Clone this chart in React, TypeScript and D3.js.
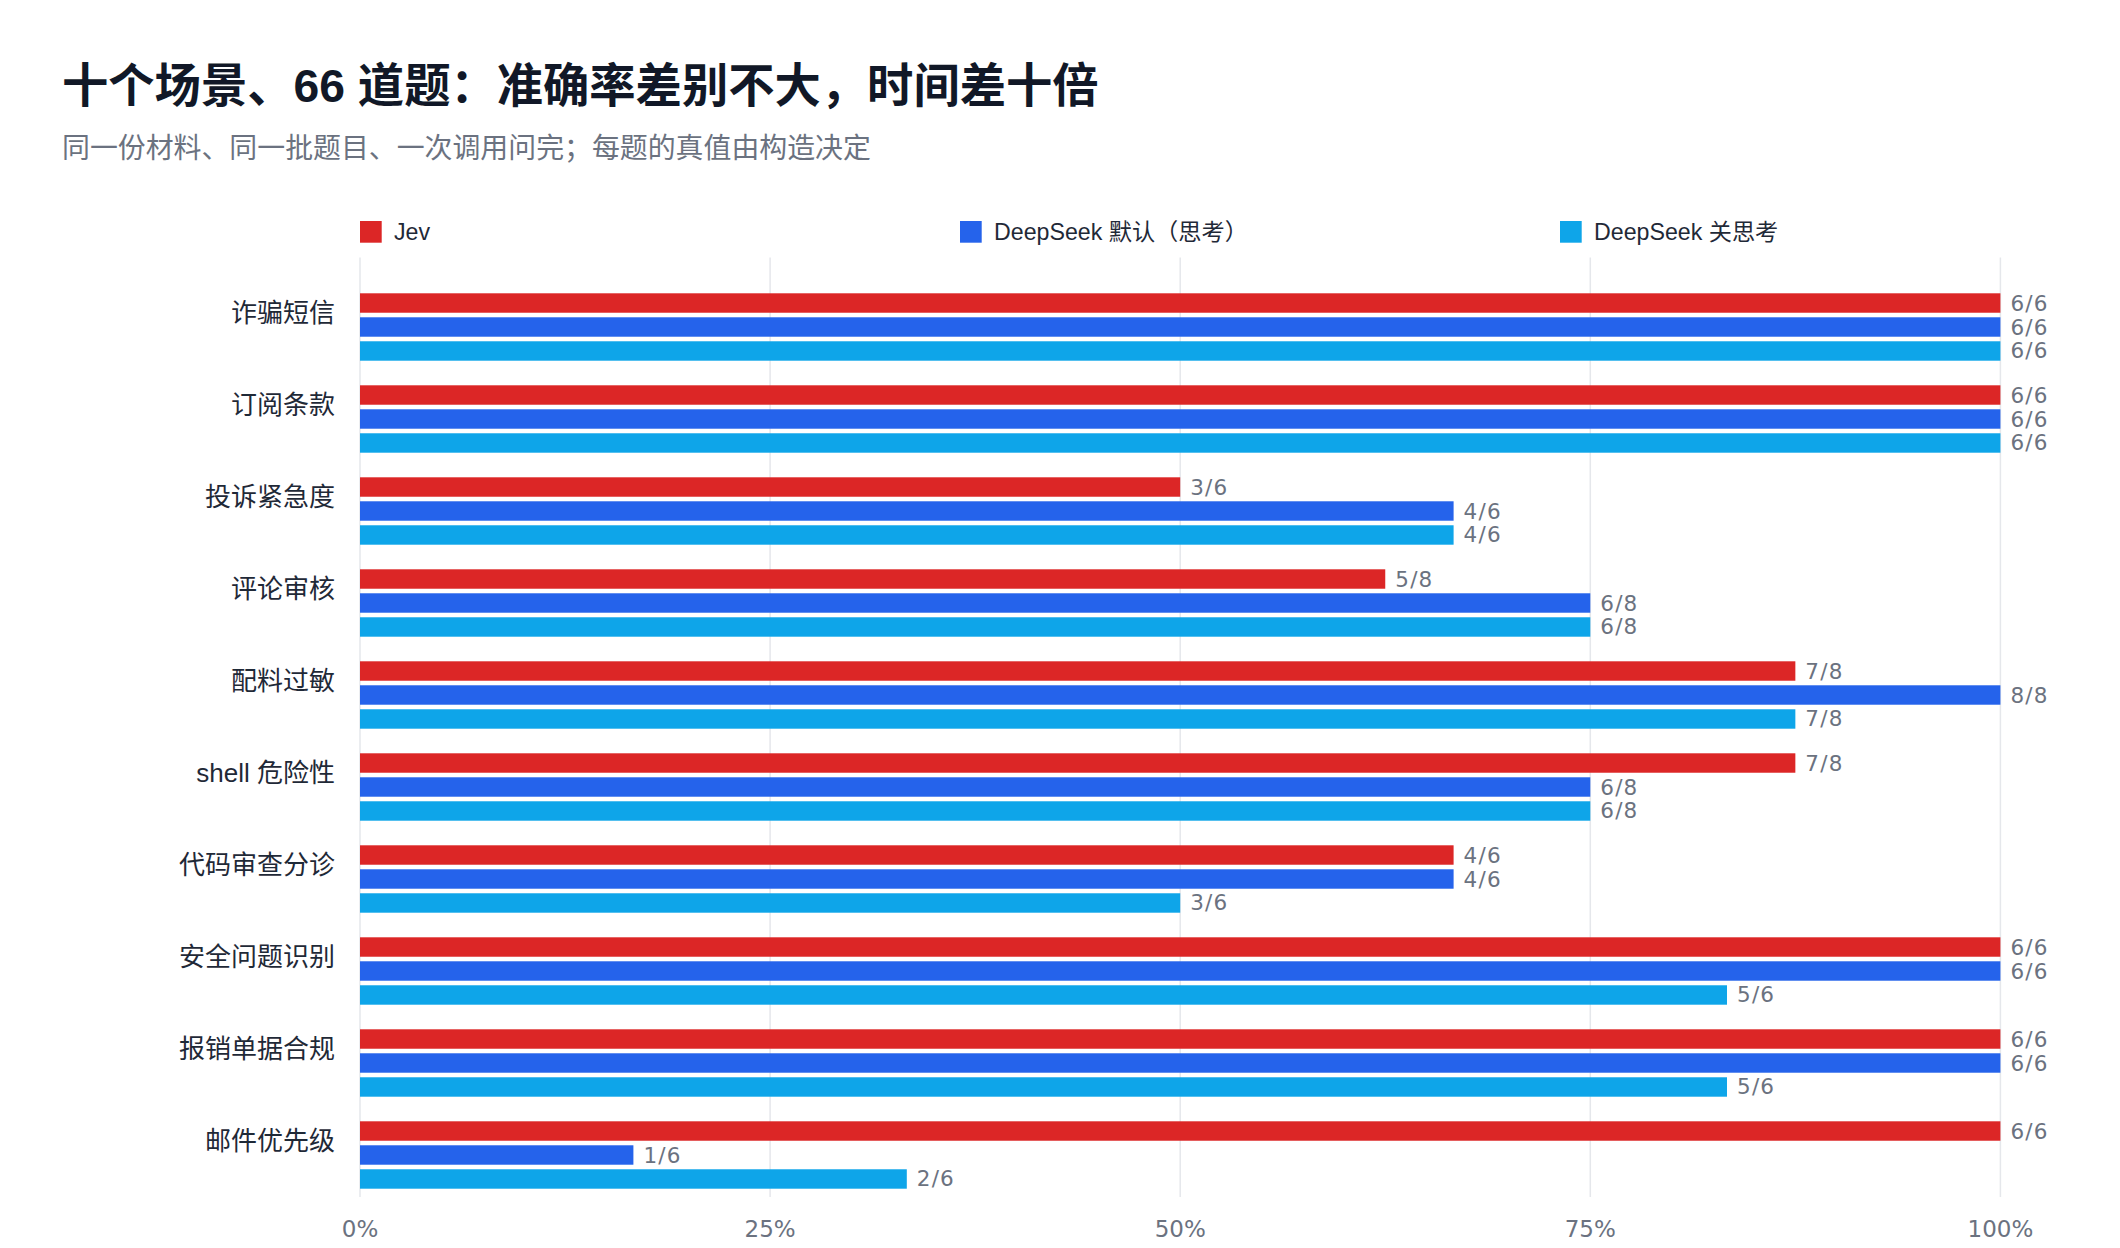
import React from "react";
import * as d3 from "d3";

const titleText = "十个场景、66 道题：准确率差别不大，时间差十倍";
const subtitleText = "同一份材料、同一批题目、一次调用问完；每题的真值由构造决定";

const categories = [
  "诈骗短信",
  "订阅条款",
  "投诉紧急度",
  "评论审核",
  "配料过敏",
  "shell 危险性",
  "代码审查分诊",
  "安全问题识别",
  "报销单据合规",
  "邮件优先级",
];

const seriesNames = ["Jev", "DeepSeek 默认（思考）", "DeepSeek 关思考"];
const seriesColors = ["#dc2626", "#2563eb", "#0ea5e9"];

const totals = [6, 6, 6, 8, 8, 8, 6, 6, 6, 6];
const jevCorrect = [6, 6, 3, 5, 7, 7, 4, 6, 6, 6];
const dsDefaultCorrect = [6, 6, 4, 6, 8, 6, 4, 6, 6, 1];
const dsNoThinkCorrect = [6, 6, 4, 6, 7, 6, 3, 5, 5, 2];

const xTicks = [0, 0.25, 0.5, 0.75, 1];

const W = 2120;
const H = 1248;

const LATIN = "'Liberation Sans', 'Noto Sans CJK SC', sans-serif";
const NUM = "'DejaVu Sans', 'Noto Sans', sans-serif";

export default function App() {
  const seriesData = [jevCorrect, dsDefaultCorrect, dsNoThinkCorrect];

  const x = d3.scaleLinear().domain([0, 1]).range([360, 2000.4]);
  const y = d3.scaleBand<string>().domain(categories).range([281, 1201]).padding(0);
  const ySub = d3
    .scaleBand<string>()
    .domain(seriesNames)
    .range([12.3, 79.7])
    .paddingInner(0.19)
    .paddingOuter(0);

  const gridTop = 257.5;
  const gridBottom = 1197;

  return (
    <svg
      width={W}
      height={H}
      viewBox={`0 0 ${W} ${H}`}
      style={{ position: "absolute", left: 0, top: 0, background: "#ffffff" }}
    >
      <rect x={0} y={0} width={W} height={H} fill="#ffffff" />
      {/* Title */}
      <text
        x={62}
        y={102}
        fontFamily={LATIN}
        fontWeight={700}
        fontSize={46.3}
        fill="#111827"
      >
        {titleText}
      </text>
      <text x={62} y={158} fontFamily={LATIN} fontSize={27.9} fill="#6b7280">
        {subtitleText}
      </text>

      {/* Legend */}
      {seriesNames.map((s, i) => (
        <g key={s} transform={`translate(${360 + i * 600},221)`}>
          <rect x={0} y={0} width={21.7} height={21.7} fill={seriesColors[i]} />
          <text
            x={34}
            y={11}
            dominantBaseline="central"
            fontFamily={LATIN}
            fontSize={23.2}
            fill="#1f2937"
          >
            {s}
          </text>
        </g>
      ))}

      {/* Gridlines */}
      {xTicks.map((t) => (
        <line
          key={t}
          x1={x(t)}
          x2={x(t)}
          y1={gridTop}
          y2={gridBottom}
          stroke="#e5e7eb"
          strokeWidth={1.5}
        />
      ))}

      {/* Bars */}
      {categories.map((c, ci) => {
        const y0 = y(c) as number;
        return (
          <g key={c}>
            <text
              x={335}
              y={y0 + 31.5}
              textAnchor="end"
              dominantBaseline="central"
              fontFamily={LATIN}
              fontSize={26}
              fill="#1f2937"
            >
              {c}
            </text>
            {seriesNames.map((s, si) => {
              const v = seriesData[si][ci] / totals[ci];
              const by = y0 + (ySub(s) as number);
              const bh = ySub.bandwidth();
              return (
                <g key={s}>
                  <rect
                    x={x(0)}
                    y={by}
                    width={x(v) - x(0)}
                    height={bh}
                    fill={seriesColors[si]}
                  />
                  <text
                    x={x(v) + 10}
                    y={by + bh / 2}
                    dominantBaseline="central"
                    fontFamily={NUM}
                    fontSize={21.5}
                    letterSpacing={1.2}
                    fill="#6b7280"
                  >
                    {`${seriesData[si][ci]}/${totals[ci]}`}
                  </text>
                </g>
              );
            })}
          </g>
        );
      })}

      {/* X axis labels */}
      {xTicks.map((t) => (
        <text
          key={t}
          x={x(t)}
          y={1237}
          textAnchor="middle"
          fontFamily={NUM}
          fontSize={23}
          fill="#6b7280"
        >
          {d3.format(".0%")(t)}
        </text>
      ))}
    </svg>
  );
}
